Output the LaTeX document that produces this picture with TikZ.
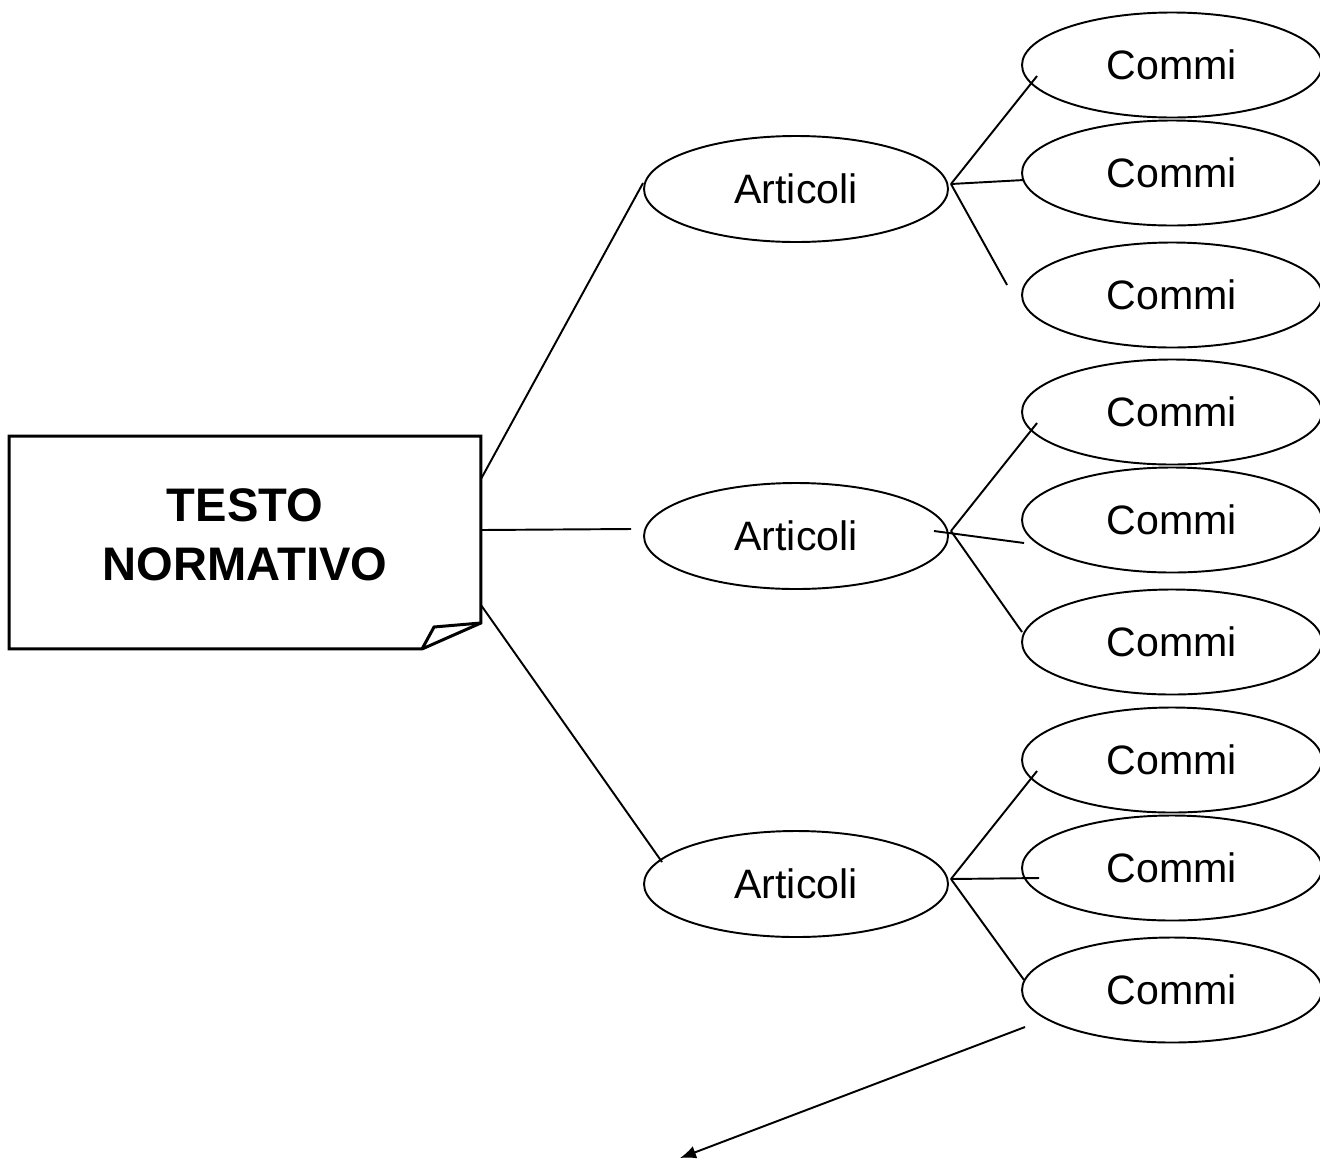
\documentclass[tikz,border=0pt]{standalone}
\usepackage{fontspec}
\setmainfont{Liberation Sans}
\usetikzlibrary{calc,arrows.meta,shapes.geometric}

\begin{document}
\begin{tikzpicture}[line width=0.55pt,
    articolo/.style={draw, ellipse, minimum width=3.04cm, minimum height=1.06cm, inner sep=0pt, font=\fontsize{11.7}{14}\selectfont},
    comma/.style={draw, ellipse, minimum width=3.0cm, minimum height=1.05cm, inner sep=0pt, font=\fontsize{11.7}{14}\selectfont}]
    \path[use as bounding box, clip] (0,0) rectangle (13.2,-11.6);

    \node[minimum width=4.7cm, minimum height=2.11cm, inner sep=0pt] (testo) at (2.45,-5.425) {};
    \node[align=center, font=\fontsize{13.4}{16.8}\selectfont\bfseries] (titolo) at (2.45,-5.345) {TESTO\\NORMATIVO};
    \draw[line width=0.85pt] (testo.north west) -- (testo.north east) -- ($(testo.south east)+(0,0.26)$)
      -- ($(testo.south west)+(4.13,0)$) -- (testo.south west) -- cycle;
    \draw[line width=0.85pt] ($(testo.south west)+(4.13,0)$) -- ($(testo.south west)+(4.25,0.22)$)
      -- ($(testo.south east)+(0,0.26)$);

    \foreach \i/\y/\ms/\mx/\my/\bx in {1/-1.89/0.02/0.03/-0.07/-0.14, 2/-5.36/-0.15/0.03/-0.23/0.01, 3/-8.84/0.02/0.18/-0.10/0.03}{
      \node[articolo] (a\i) at (7.96,\y) {Articoli};
      \node[comma] (c\i1) at (11.72,\y+1.24) {Commi};
      \node[comma] (c\i2) at (11.72,\y+0.16) {Commi};
      \node[comma] (c\i3) at (11.72,\y-1.06) {Commi};
      \draw ($(a\i.east)+(0.02,0.05)$) -- ($(c\i1.west)+(0.16,-0.11)$);
      \draw ($(a\i.east)+(\ms,0.05)$) -- ($(c\i2.west)+(\mx,\my)$);
      \draw ($(a\i.east)+(0.02,0.05)$) -- ($(c\i3.west)+(\bx,0.1)$);
    }

    \draw ($(testo.north east)+(0,-0.43)$) -- ($(a1.west)+(0,0.06)$);
    \draw ($(testo.east)+(0,0.125)$) -- ($(a2.west)+(-0.12,0.07)$);
    \draw ($(testo.east)+(0,-0.625)$) -- ($(a3.center)+(-1.34,0.22)$);

    \coordinate (fine) at (6.8,-11.58);
    \draw[-{Latex[length=1.6mm,width=1.3mm]}] ($(c33.center)+(-1.47,-0.37)$) -- (fine);
  \end{tikzpicture}
\end{document}
